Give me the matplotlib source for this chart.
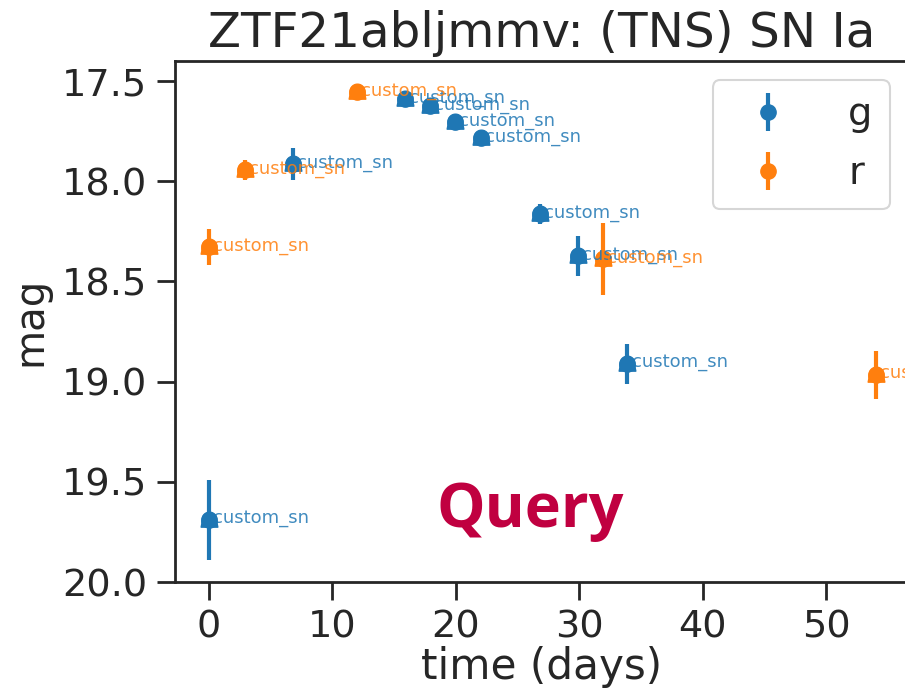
import matplotlib
matplotlib.use("Agg")
import matplotlib.pyplot as plt
import numpy as np
from matplotlib.path import Path

# ---- data ----
g_time = [0.0, 6.8, 15.9, 17.9, 19.95, 22.05, 26.8, 29.9, 33.9]
g_mag = [19.69, 17.915, 17.59, 17.625, 17.705, 17.785, 18.165, 18.375, 18.91]
g_err = [0.20, 0.08, 0.03, 0.03, 0.03, 0.03, 0.05, 0.10, 0.10]

r_time = [0.0, 2.9, 12.0, 31.9, 54.0]
r_mag = [18.33, 17.945, 17.555, 18.39, 18.965]
r_err = [0.09, 0.05, 0.03, 0.18, 0.12]

annot_text = "custom_sn"
title_text = "ZTF21abljmmv: (TNS) SN Ia"
xlabel_text = "time (days)"
ylabel_text = "mag"
watermark = "Query"

TXT = "#262626"
BLUE = "#1f77b4"
ORANGE = "#ff7f0e"

# bell-shaped marker path
theta = np.linspace(0, np.pi, 24)
top = np.column_stack([0.45 * np.cos(theta), 0.05 + 0.45 * np.sin(theta)])
rest = np.array([[-0.46, -0.2], [-0.5, -0.4], [0.5, -0.4], [0.46, -0.2], [0.45, 0.05]])
verts = np.vstack([top, rest])
bell = Path(np.vstack([verts, verts[:1]]),
            [Path.MOVETO] + [Path.LINETO] * (len(verts) - 1) + [Path.CLOSEPOLY])

fig = plt.figure(figsize=(9.05, 6.95), dpi=100)
ax = fig.add_axes([175 / 905, (695 - 582) / 695, 734 / 905, 521 / 695])

for t, m, e, c, lab in [(g_time, g_mag, g_err, BLUE, "g"), (r_time, r_mag, r_err, ORANGE, "r")]:
    ax.errorbar(t, m, yerr=e, fmt="o", color=c, ms=11, elinewidth=3, capsize=0, label=lab)
    ax.plot(t, m, linestyle="none", marker=bell, ms=12, color=c)
    for xi, yi in zip(t, m):
        ax.annotate(annot_text, (xi, yi), xytext=(3, 1), textcoords="offset points",
                    ha="left", va="center", fontsize=13, color=c, alpha=0.85)

ax.set_xlim(-2.75, 56.7)
ax.set_ylim(20.0, 17.40)
ax.set_xticks([0, 10, 20, 30, 40, 50])
ax.set_yticks([17.5, 18.0, 18.5, 19.0, 19.5, 20.0])
ax.set_yticklabels(["17.5", "18.0", "18.5", "19.0", "19.5", "20.0"])

for s in ax.spines.values():
    s.set_color(TXT)
    s.set_linewidth(2)
ax.tick_params(axis="both", length=13, width=2, color=TXT, labelcolor=TXT,
               labelsize=27.5, pad=7)

ax.set_title(title_text, fontsize=34.8, color=TXT, pad=10)
ax.set_xlabel(xlabel_text, fontsize=30.3, color=TXT, labelpad=0)
ax.set_ylabel(ylabel_text, fontsize=29, color=TXT, labelpad=8)

leg = ax.legend(loc="upper right", fontsize=27.5, handletextpad=1.1, borderpad=0.45,
                labelspacing=0.6, frameon=True, fancybox=True)
leg.get_frame().set_edgecolor("#cccccc")
leg.get_frame().set_linewidth(1.5)
for t in leg.get_texts():
    t.set_color(TXT)

fig.text(530 / 905, 1 - 512 / 695, watermark, fontsize=44, fontweight="bold",
         family=["Open Sans", "DejaVu Sans"], color="#C00040", ha="center", va="center")

fig.savefig("out.png", dpi=100)
